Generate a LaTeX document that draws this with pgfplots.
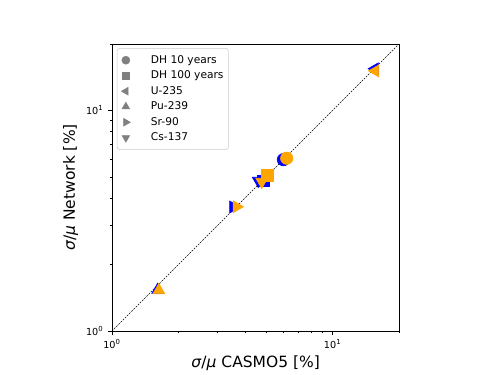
\documentclass[border=0pt]{standalone}
\usepackage{pgfplots}
\pgfplotsset{compat=1.18}
\usepackage{fontspec}
\setmainfont{DejaVu Sans}
\definecolor{myorange}{HTML}{FFA500}
\definecolor{myblue}{HTML}{0000FF}
\definecolor{mygray}{HTML}{808080}
\begin{document}
\begin{tikzpicture}
\begin{axis}[
  scale only axis, width=207.5pt, height=207.5pt,
  xmode=log, ymode=log, xmin=1, xmax=20, ymin=1, ymax=20,
  xtick={1,10}, ytick={1,10},
  xticklabels={10\textsuperscript{0},10\textsuperscript{1}},
  yticklabels={10\textsuperscript{0},10\textsuperscript{1}},
  minor xtick={2,3,4,5,6,7,8,9,20},
  minor ytick={2,3,4,5,6,7,8,9,20},
  tick pos=left, tick align=outside,
  major tick length=2.7pt, minor tick length=1.6pt,
  every tick/.style={black, line width=0.45pt},
  axis line style={line width=0.45pt},
  ticklabel style={font=\fontsize{7}{8}\selectfont},
  xlabel={\textit{σ}/\textit{μ} CASMO5 [\%]},
  ylabel={\textit{σ}/\textit{μ} Network [\%]},
  label style={font=\fontsize{11.2}{13}\selectfont},
  xlabel style={at={(axis description cs:0.5,-0.113)}, anchor=center},
  ylabel style={at={(axis description cs:-0.144,0.5)}, anchor=center},
  legend cell align=left,
  legend image code/.code={\path (0cm,0cm) (0.72cm,0cm); \draw[mark repeat=2,mark phase=2,#1] plot coordinates {(0cm,0cm)(0.16cm,0cm)(0.72cm,0cm)};},
  legend style={at={(0.017,0.986)}, anchor=north west, draw=gray!40, rounded corners=2pt,
    font=\fontsize{7.7}{9}\selectfont, row sep=0pt, inner xsep=1.5pt, inner ysep=3pt},
]
\addlegendimage{only marks, mark=*, mygray, mark size=2.9pt}
\addlegendentry{DH 10 years}
\addlegendimage{only marks, mark=square*, mygray, mark size=2.7pt}
\addlegendentry{DH 100 years}
\addlegendimage{only marks, mark=triangle*, mark options={rotate=90}, mygray, mark size=3.2pt}
\addlegendentry{U-235}
\addlegendimage{only marks, mark=triangle*, mygray, mark size=3.2pt}
\addlegendentry{Pu-239}
\addlegendimage{only marks, mark=triangle*, mark options={rotate=-90}, mygray, mark size=3.2pt}
\addlegendentry{Sr-90}
\addlegendimage{only marks, mark=triangle*, mark options={rotate=180}, mygray, mark size=3.2pt}
\addlegendentry{Cs-137}

\addplot[black, line width=0.4pt, dash pattern=on 1.3pt off 0.9pt, forget plot] coordinates {(1,1) (20,20)};

% blue series
\addplot[only marks, mark=*, myblue, mark size=4.5pt, forget plot] coordinates {(5.98,5.98)};
\addplot[only marks, mark=square*, myblue, mark size=4.3pt, forget plot] coordinates {(4.85,4.8)};
\addplot[only marks, mark=triangle*, mark options={rotate=90}, myblue, mark size=5pt, forget plot] coordinates {(15.55,15.45)};
\addplot[only marks, mark=triangle*, myblue, mark size=5pt, forget plot] coordinates {(1.61,1.535)};
\addplot[only marks, mark=triangle*, mark options={rotate=-90}, myblue, mark size=5pt, forget plot] coordinates {(3.54,3.65)};
\addplot[only marks, mark=triangle*, mark options={rotate=180}, myblue, mark size=5pt, forget plot] coordinates {(4.6,4.8)};
% orange series
\addplot[only marks, mark=*, myorange, mark size=4.5pt, forget plot] coordinates {(6.19,6.07)};
\addplot[only marks, mark=square*, myorange, mark size=4.3pt, forget plot] coordinates {(5.03,5.10)};
\addplot[only marks, mark=triangle*, mark options={rotate=90}, myorange, mark size=5pt, forget plot] coordinates {(15.6,15.1)};
\addplot[only marks, mark=triangle*, myorange, mark size=5pt, forget plot] coordinates {(1.63,1.53)};
\addplot[only marks, mark=triangle*, mark options={rotate=-90}, myorange, mark size=5pt, forget plot] coordinates {(3.67,3.66)};
\addplot[only marks, mark=triangle*, mark options={rotate=180}, myorange, mark size=5pt, forget plot] coordinates {(4.77,4.75)};
\end{axis}
\pgfresetboundingbox
\path (-81pt,-31.1pt) rectangle (279pt,239.3pt);
\end{tikzpicture}
\end{document}
